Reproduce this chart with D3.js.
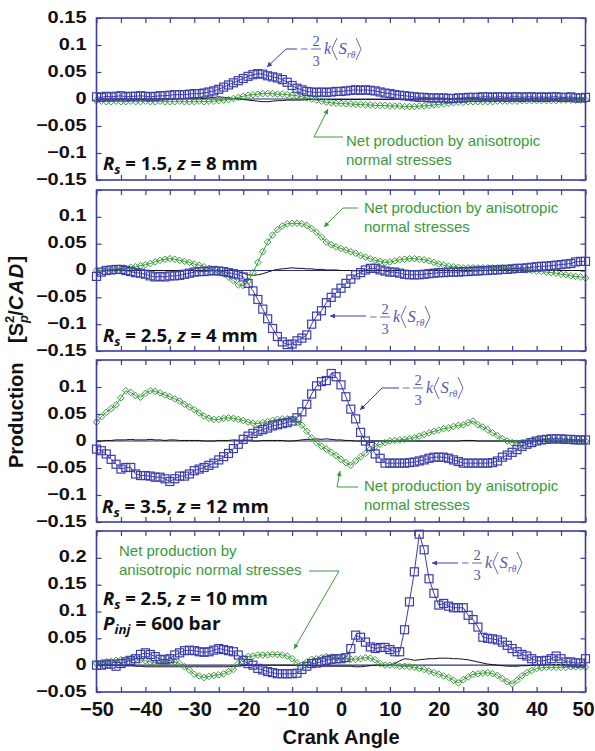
<!DOCTYPE html>
<html><head><meta charset="utf-8">
<script src="https://cdn.jsdelivr.net/npm/d3@7"></script>
<style>body{margin:0;background:#fff;} svg{display:block;}</style>
</head><body>
<svg id="chart" width="595" height="751"></svg>
<script>
// ---------------- DATA ----------------
const crankAngle = [
-50,-49,-48,-47,-46,-45,-44,-43,-42,-41,
-40,-39,-38,-37,-36,-35,-34,-33,-32,-31,
-30,-29,-28,-27,-26,-25,-24,-23,-22,-21,
-20,-19,-18,-17,-16,-15,-14,-13,-12,-11,
-10,-9,-8,-7,-6,-5,-4,-3,-2,-1,
0,1,2,3,4,5,6,7,8,9,
10,11,12,13,14,15,16,17,18,19,
20,21,22,23,24,25,26,27,28,29,
30,31,32,33,34,35,36,37,38,39,
40,41,42,43,44,45,46,47,48,49,
50];

// Panel 1: Rs = 1.5, z = 8 mm
const p1Shear = [
0.004,0.003,0.005,0.004,0.005,0.006,0.004,0.005,0.005,0.006,
0.005,0.004,0.005,0.006,0.006,0.007,0.008,0.008,0.008,0.009,
0.010,0.010,0.011,0.013,0.015,0.018,0.022,0.026,0.030,0.034,
0.038,0.042,0.045,0.047,0.046,0.043,0.041,0.039,0.036,0.031,
0.025,0.020,0.017,0.014,0.013,0.012,0.013,0.012,0.013,0.014,
0.014,0.015,0.016,0.017,0.016,0.017,0.016,0.015,0.013,0.011,
0.010,0.008,0.007,0.006,0.005,0.004,0.003,0.003,0.002,0.002,
0.002,0.002,0.001,0.001,0.002,0.002,0.003,0.003,0.003,0.004,
0.004,0.003,0.004,0.004,0.003,0.004,0.004,0.003,0.004,0.004,
0.003,0.004,0.003,0.004,0.004,0.003,0.003,0.004,0.002,0.002,
0.003];
const p1Normal = [
-0.003,-0.004,-0.005,-0.005,-0.004,-0.005,-0.005,-0.004,-0.005,-0.005,
-0.004,-0.005,-0.005,-0.004,-0.005,-0.005,-0.005,-0.004,-0.005,-0.005,
-0.005,-0.004,-0.005,-0.004,-0.004,-0.003,-0.002,-0.001,0.001,0.003,
0.005,0.007,0.008,0.009,0.010,0.010,0.010,0.009,0.009,0.008,
0.007,0.006,0.004,0.002,0.000,-0.002,-0.004,-0.006,-0.007,-0.008,
-0.008,-0.009,-0.009,-0.010,-0.010,-0.011,-0.011,-0.012,-0.012,-0.012,
-0.013,-0.013,-0.013,-0.014,-0.014,-0.014,-0.013,-0.013,-0.012,-0.011,
-0.010,-0.009,-0.008,-0.007,-0.006,-0.006,-0.005,-0.005,-0.005,-0.005,
-0.005,-0.005,-0.004,-0.004,-0.004,-0.004,-0.004,-0.003,-0.003,-0.003,
-0.003,-0.003,-0.003,-0.003,-0.003,-0.002,-0.002,-0.002,-0.002,-0.002,
-0.002];
const p1Net = [
0,0,0,0,0,0,0,0,0,0,
0,0,0,0,0,0,0,0.001,0.001,0.001,
0.000,0.001,0.001,0.002,0.003,0.004,0.003,0.002,0.001,0.000,
-0.001,-0.002,-0.003,-0.004,-0.005,-0.005,-0.004,-0.003,-0.003,-0.002,
-0.002,-0.002,-0.002,-0.001,-0.001,-0.001,-0.001,-0.001,-0.001,-0.001,
-0.001,-0.001,-0.001,-0.001,-0.001,-0.001,-0.001,-0.001,-0.001,-0.001,
-0.001,-0.001,-0.001,-0.001,-0.001,0,0,0,0,0,
0,0,0,0,0,0,0,0,0,0,
0,0,0,0,0,0,0,0,0,0,
0,0,0,0,0,0,0,0,0,0,
0];

// Panel 2: Rs = 2.5, z = 4 mm
const p2Shear = [
-0.011,-0.003,0.000,0.001,0.002,0.002,0.000,-0.002,-0.004,-0.005,
-0.007,-0.010,-0.012,-0.011,-0.012,-0.010,-0.010,-0.009,-0.007,-0.005,
-0.003,-0.002,-0.002,-0.001,0.000,-0.001,-0.002,-0.004,-0.006,-0.008,
-0.012,-0.024,-0.038,-0.054,-0.072,-0.090,-0.108,-0.123,-0.133,-0.138,
-0.137,-0.131,-0.126,-0.120,-0.100,-0.085,-0.075,-0.060,-0.050,-0.042,
-0.033,-0.024,-0.016,-0.008,-0.004,0.001,0.004,0.004,0.001,-0.001,
-0.003,-0.003,-0.005,-0.007,-0.008,-0.008,-0.008,-0.007,-0.006,-0.005,
-0.004,-0.004,-0.003,-0.003,-0.003,-0.002,-0.002,-0.001,-0.001,0.000,
0.000,0.001,0.001,0.002,0.002,0.003,0.004,0.004,0.005,0.006,
0.007,0.008,0.008,0.009,0.010,0.011,0.012,0.013,0.016,0.017,
0.017];
const p2Normal = [
0.000,0.000,0.001,0.001,0.002,0.003,0.004,0.006,0.007,0.009,
0.011,0.013,0.016,0.019,0.021,0.022,0.021,0.019,0.017,0.015,
0.012,0.010,0.007,0.004,0.001,-0.002,-0.006,-0.012,-0.019,-0.027,
-0.028,-0.020,-0.004,0.015,0.035,0.053,0.066,0.076,0.083,0.087,
0.088,0.088,0.087,0.084,0.078,0.071,0.062,0.053,0.048,0.044,
0.041,0.038,0.035,0.032,0.028,0.025,0.022,0.019,0.017,0.015,
0.016,0.018,0.020,0.021,0.022,0.022,0.021,0.020,0.018,0.015,
0.012,0.010,0.008,0.007,0.006,0.005,0.005,0.005,0.005,0.005,
0.005,0.005,0.005,0.005,0.004,0.004,0.003,0.002,0.001,0.000,
-0.001,-0.002,-0.003,-0.004,-0.005,-0.007,-0.008,-0.010,-0.011,-0.012,
-0.014];
const p2Net = [
0,0,0,0,0,0,0,0,0,0,
0,0,0,0,0,0,0,0,0,0,
0,0,0,0,0,0,0,0,0,-0.002,
-0.005,-0.008,-0.009,-0.008,-0.006,-0.003,0.000,0.002,0.003,0.004,
0.005,0.004,0.004,0.003,0.003,0.002,0.002,0.001,0.001,0.001,
0,0,0,0,0,0,0,0,0,0,
0,0,0,0,0,0,0,0,0,0,
0,0,0,0,0,0,0,0,0,0,
0,0,0,0,0,0,0,0,0,0,
0,0,0,0,0,0,0,0,0,0,
0];

// Panel 3: Rs = 3.5, z = 12 mm
const p3Shear = [
-0.015,-0.018,-0.024,-0.034,-0.043,-0.052,-0.049,-0.049,-0.061,-0.064,
-0.064,-0.065,-0.067,-0.067,-0.070,-0.075,-0.070,-0.065,-0.065,-0.061,
-0.055,-0.052,-0.049,-0.045,-0.041,-0.035,-0.029,-0.023,-0.014,-0.006,
0.003,0.009,0.014,0.018,0.021,0.024,0.028,0.030,0.032,0.034,
0.037,0.043,0.054,0.068,0.087,0.102,0.110,0.112,0.125,0.119,
0.104,0.082,0.059,0.041,0.016,0.000,-0.010,-0.024,-0.032,-0.041,
-0.041,-0.041,-0.041,-0.041,-0.040,-0.039,-0.037,-0.035,-0.032,-0.030,
-0.030,-0.030,-0.032,-0.035,-0.038,-0.041,-0.041,-0.041,-0.041,-0.041,
-0.041,-0.040,-0.037,-0.030,-0.026,-0.021,-0.016,-0.010,-0.006,-0.003,
0.000,0.002,0.003,0.004,0.004,0.004,0.003,0.003,0.002,0.002,
0.002];
const p3Normal = [
0.035,0.045,0.053,0.060,0.067,0.080,0.093,0.090,0.084,0.081,
0.088,0.093,0.092,0.089,0.085,0.082,0.078,0.074,0.068,0.063,
0.058,0.052,0.046,0.042,0.040,0.040,0.042,0.043,0.042,0.040,
0.038,0.035,0.033,0.032,0.034,0.036,0.038,0.040,0.041,0.041,
0.040,0.035,0.029,0.018,0.006,-0.003,-0.010,-0.015,-0.021,-0.027,
-0.034,-0.040,-0.045,-0.037,-0.029,-0.023,-0.015,-0.010,-0.006,-0.003,
0.000,0.001,0.002,0.003,0.004,0.006,0.009,0.012,0.015,0.018,
0.020,0.023,0.024,0.027,0.029,0.030,0.034,0.037,0.030,0.026,
0.021,0.015,0.010,0.004,0.000,-0.003,-0.004,-0.003,-0.001,0.001,
0.002,0.002,0.002,0.002,0.001,0.001,0.001,0.000,0.000,0.000,
0.000];
const p3Net = [
0.000,0.000,0.001,0.001,0.002,0.002,0.002,0.003,0.002,0.002,
0.002,0.003,0.002,0.002,0.001,0.002,0.002,0.001,0.001,0.001,
0.001,0.001,0.000,0.000,0.000,0.001,0.001,0.001,0.002,0.001,
0.001,0.001,0.000,0.000,0.001,0.001,0.001,0.001,0.001,0.000,
0.000,0.001,0.002,0.003,0.003,0.004,0.003,0.004,0.003,0.002,
0.002,0.001,0.001,0,0,0,0,0,0,0,
0,0,0,0,0,0,0,0,0,0,
0,0,0,0,0,0.001,0.001,0.001,0,0,
0,0,0,0,0,0,0,0,0,0,
0,0,0,0,0,0,0,0,0,0,
0];

// Panel 4: Rs = 2.5, z = 10 mm, Pinj = 600 bar
const p4Shear = [
0.000,0.000,0.002,0.002,-0.002,0.003,0.006,0.009,0.012,0.020,
0.023,0.020,0.016,0.011,0.010,0.012,0.019,0.023,0.027,0.028,
0.027,0.025,0.024,0.025,0.028,0.031,0.029,0.027,0.025,0.019,
0.009,0.003,0.000,-0.006,-0.009,-0.012,-0.014,-0.016,-0.016,-0.016,
-0.016,-0.015,-0.008,-0.002,0.003,0.004,0.006,0.009,0.011,0.012,
0.012,0.014,0.031,0.056,0.052,0.043,0.034,0.031,0.033,0.033,
0.029,0.025,0.025,0.066,0.118,0.174,0.244,0.215,0.161,0.134,
0.112,0.115,0.110,0.107,0.107,0.107,0.093,0.085,0.071,0.052,
0.050,0.049,0.047,0.043,0.037,0.031,0.025,0.020,0.017,0.012,
0.008,0.008,0.009,0.012,0.017,0.012,0.006,0.006,0.004,0.004,
0.012];
const p4Normal = [
0.003,0.004,0.006,0.007,0.009,0.010,0.011,0.012,0.012,0.010,
0.008,0.006,0.004,0.006,0.008,0.009,0.006,0.003,-0.003,-0.009,
-0.017,-0.020,-0.023,-0.021,-0.019,-0.018,-0.016,-0.012,-0.008,0.003,
0.012,0.016,0.017,0.019,0.019,0.019,0.020,0.020,0.019,0.017,
0.012,0.004,0.000,0.006,0.011,0.012,0.014,0.016,0.015,0.013,
0.012,0.012,0.011,0.011,0.012,0.014,0.013,0.010,0.003,0.000,
0.000,0.000,-0.002,-0.002,-0.003,-0.004,-0.006,-0.008,-0.011,-0.014,
-0.017,-0.020,-0.023,-0.028,-0.033,-0.027,-0.022,-0.017,-0.016,-0.015,
-0.014,-0.016,-0.019,-0.025,-0.031,-0.035,-0.028,-0.020,-0.014,-0.010,
-0.006,-0.005,-0.004,-0.004,-0.004,-0.004,-0.004,-0.003,-0.003,-0.003,
-0.004];
const p4Net = [
0.000,0.000,0.000,0.000,0.000,0.000,0.000,-0.001,-0.002,-0.002,
-0.003,-0.003,-0.003,-0.003,-0.003,-0.003,-0.003,-0.003,-0.003,-0.003,
-0.003,-0.003,-0.003,-0.003,-0.003,-0.003,-0.003,-0.003,-0.002,-0.002,
-0.001,0.000,0.000,0.000,0.000,0.000,0.000,0.000,0.000,0.000,
0.000,0.000,0.000,0.000,-0.001,-0.001,-0.002,-0.002,-0.002,-0.002,
-0.002,-0.002,-0.002,-0.003,-0.003,-0.002,-0.001,0.000,0.000,-0.001,
0.000,0.003,0.008,0.012,0.011,0.009,0.010,0.011,0.012,0.012,
0.013,0.013,0.013,0.012,0.012,0.011,0.010,0.008,0.006,0.004,
0.002,0.001,0.000,-0.001,-0.002,-0.002,-0.002,-0.001,-0.001,0.000,
0.000,0.000,0.001,0.001,0.001,0.001,0.001,0.000,0.000,0.000,
0.000];

const yTicksSym = [-0.15,-0.1,-0.05,0,0.05,0.1,0.15];
const yTicksInj = [-0.05,0,0.05,0.1,0.15,0.2,0.25];
const xTicks = [-50,-45,-40,-35,-30,-25,-20,-15,-10,-5,0,5,10,15,20,25,30,35,40,45,50];
const xTickLabels = [-50,-40,-30,-20,-10,0,10,20,30,40,50];
const xTitle = "Crank Angle";
const yTitleWord = "Production";
const shearLabelText = ["\u2212", "2", "3", "k", "S", "r\u03b8"];
const normalLabelLines = [
  ["Net production by anisotropic", "normal stresses"],
  ["Net production by anisotropic", "normal stresses"],
  ["Net production by anisotropic", "normal stresses"],
  ["Net production by", "anisotropic normal stresses"]
];
const caseLabels = [
  [[{t:"R",i:1},{t:"s",i:1,sub:1},{t:" = 1.5, "},{t:"z",i:1},{t:" = 8 mm"}]],
  [[{t:"R",i:1},{t:"s",i:1,sub:1},{t:" = 2.5, "},{t:"z",i:1},{t:" = 4 mm"}]],
  [[{t:"R",i:1},{t:"s",i:1,sub:1},{t:" = 3.5, "},{t:"z",i:1},{t:" = 12 mm"}]],
  [[{t:"R",i:1},{t:"s",i:1,sub:1},{t:" = 2.5, "},{t:"z",i:1},{t:" = 10 mm"}],
   [{t:"P",i:1},{t:"inj",i:1,sub:1},{t:" = 600 bar"}]]
];

// ---------------- STYLE / LAYOUT ----------------
const frameColor = "#3b3e9c";
const blue = "#3d3dac";
const green = "#3a9a3a";
const mathColor = "#5656b2";
const sans = "'Liberation Sans', Arial, Helvetica, sans-serif";
const serif = "'Liberation Serif', 'Times New Roman', serif";
const labelFont = "'Open Sans', 'Liberation Sans', sans-serif";

const xLeft = 96.5, xRight = 585.5;
const panelBoxes = [{top:18,bottom:180},{top:190,bottom:351},{top:360,bottom:522},{top:531,bottom:692}];
const panelData = [
  {shear:p1Shear, normal:p1Normal, net:p1Net, domain:[-0.15,0.15], ticks:yTicksSym, hide:[]},
  {shear:p2Shear, normal:p2Normal, net:p2Net, domain:[-0.15,0.15], ticks:yTicksSym, hide:[0.15]},
  {shear:p3Shear, normal:p3Normal, net:p3Net, domain:[-0.15,0.15], ticks:yTicksSym, hide:[0.15]},
  {shear:p4Shear, normal:p4Normal, net:p4Net, domain:[-0.05,0.25], ticks:yTicksInj, hide:[0.25]}
];
// annotation placement (layout only)
const shearAnno = [
  {x0:301, yb:54, arrow:[[297,49],[286,49],[267,67]]},
  {x0:370, yb:322, arrow:[[366,316],[330,316]]},
  {x0:403, yb:393, arrow:[[399,388],[382,388],[360,410]]},
  {x0:462, yb:568, arrow:[[458,563],[432,563]]}
];
const normalAnno = [
  {x:346, y:146, arrow:[[343,137],[314,137],[328,109]]},
  {x:364, y:213, arrow:[[358,208],[343,208],[324,227]]},
  {x:364, y:491, arrow:[[358,487],[337,487],[340,471]]},
  {x:119, y:556, arrow:[[309,571],[339,571],[294,649]]}
];
const caseAnno = [
  [{x:103, y:170, w:155}],
  [{x:103, y:342, w:155}],
  [{x:102, y:513, w:167}],
  [{x:103, y:605, w:165},{x:103, y:630, w:118}]
];

const svg = d3.select("#chart");
const x = d3.scaleLinear().domain([-50,50]).range([xLeft,xRight]);

const defs = svg.append("defs");
function marker(id, color){
  defs.append("marker").attr("id",id).attr("viewBox","0 0 10 10")
    .attr("refX",10).attr("refY",5).attr("markerWidth",7).attr("markerHeight",5)
    .attr("markerUnits","userSpaceOnUse").attr("orient","auto")
    .append("path").attr("d","M0,0L10,5L0,10Z").attr("fill",color);
}
marker("arrBlue", blue);
marker("arrGreen", green);

const fmt = d => d === 0 ? "0" : (d < 0 ? "\u2212" : "") + String(Math.abs(d));

panelData.forEach((pd, i) => {
  const box = panelBoxes[i];
  const y = d3.scaleLinear().domain(pd.domain).range([box.bottom, box.top]);
  const g = svg.append("g");

  // axes (inward ticks)
  const left = g.append("g").attr("transform",`translate(${xLeft},0)`)
    .call(d3.axisLeft(y).tickValues(pd.ticks).tickSize(-5).tickPadding(10)
      .tickFormat(d => pd.hide.includes(d) ? "" : fmt(d)));
  const right = g.append("g").attr("transform",`translate(${xRight},0)`)
    .call(d3.axisRight(y).tickValues(pd.ticks).tickSize(-5).tickFormat(""));
  const top = g.append("g").attr("transform",`translate(0,${box.top})`)
    .call(d3.axisTop(x).tickValues(xTicks).tickSize(-5).tickFormat(""));
  const bottom = g.append("g").attr("transform",`translate(0,${box.bottom})`)
    .call(d3.axisBottom(x).tickValues(xTicks).tickSize(-5).tickPadding(10)
      .tickFormat(d => (i === 3 && xTickLabels.includes(d)) ? fmt(d) : ""));
  [left,right,top,bottom].forEach(a => {
    a.select(".domain").remove();
    a.selectAll(".tick line").attr("stroke",frameColor).attr("stroke-width",1.2);
    a.attr("font-family",sans).attr("font-weight","bold").attr("font-size",20);
    a.selectAll("text").attr("fill","#111");
  });
  left.selectAll("text").attr("transform","translate(0,-1.5) scale(1,0.86)");
  // keep the last label inside the picture
  bottom.selectAll(".tick text").filter(d => d === 50).attr("dx",-2.5);

  // zero line
  g.append("line").attr("x1",xLeft).attr("x2",xRight).attr("y1",y(0)).attr("y2",y(0))
    .attr("stroke","#2c2c88").attr("stroke-width",1.2);

  const line = d3.line().x((d,k) => x(crankAngle[k])).y(d => y(d));
  // net (black)
  g.append("path").attr("d",line(pd.net)).attr("fill","none").attr("stroke","#111").attr("stroke-width",1);
  // normal stresses (green diamonds)
  g.append("path").attr("d",line(pd.normal)).attr("fill","none").attr("stroke",green).attr("stroke-width",1);
  g.selectAll(".dia").data(pd.normal).join("path")
    .attr("transform",(d,k) => `translate(${x(crankAngle[k])},${y(d)})`)
    .attr("d","M0,-3.3L3.3,0L0,3.3L-3.3,0Z")
    .attr("fill","none").attr("stroke",green).attr("stroke-width",1);
  // shear (blue squares)
  g.append("path").attr("d",line(pd.shear)).attr("fill","none").attr("stroke",blue).attr("stroke-width",1);
  g.selectAll(".sq").data(pd.shear).join("rect")
    .attr("x",(d,k) => x(crankAngle[k]) - 4).attr("y",d => y(d) - 4)
    .attr("width",8).attr("height",8)
    .attr("fill","none").attr("stroke",blue).attr("stroke-width",1.2);

  // frame
  g.append("rect").attr("x",xLeft).attr("y",box.top).attr("width",xRight-xLeft).attr("height",box.bottom-box.top)
    .attr("fill","none").attr("stroke",frameColor).attr("stroke-width",1.6);

  // shear annotation
  const sa = shearAnno[i];
  g.append("path").attr("d",d3.line()(sa.arrow)).attr("fill","none").attr("stroke",blue)
    .attr("stroke-width",1).attr("marker-end","url(#arrBlue)");
  const m = g.append("g").attr("transform",`translate(${sa.x0},${sa.yb})`).attr("fill",mathColor)
    .attr("font-family",serif);
  m.append("line").attr("x1",0).attr("x2",6.5).attr("y1",-5).attr("y2",-5).attr("stroke",mathColor).attr("stroke-width",0.9);
  m.append("line").attr("x1",10).attr("x2",20).attr("y1",-5).attr("y2",-5).attr("stroke",mathColor).attr("stroke-width",0.9);
  m.append("text").attr("x",15).attr("y",-8).attr("text-anchor","middle").attr("font-size",14.5).text(shearLabelText[1]);
  m.append("text").attr("x",15).attr("y",11.5).attr("text-anchor","middle").attr("font-size",14.5).text(shearLabelText[2]);
  m.append("text").attr("x",23).attr("y",0).attr("font-style","italic").attr("font-size",16).text(shearLabelText[3]);
  m.append("path").attr("d","M36,-16L31,-5L36,6").attr("fill","none").attr("stroke",mathColor).attr("stroke-width",0.9);
  m.append("text").attr("x",37.5).attr("y",0).attr("font-style","italic").attr("font-size",16.5).text(shearLabelText[4]);
  m.append("text").attr("x",46).attr("y",3.5).attr("font-style","italic").attr("font-size",9.5).text(shearLabelText[5]);
  m.append("path").attr("d","M55,-16L60,-5L55,6").attr("fill","none").attr("stroke",mathColor).attr("stroke-width",0.9);

  // normal stresses annotation
  const na = normalAnno[i];
  g.append("path").attr("d",d3.line()(na.arrow)).attr("fill","none").attr("stroke",green)
    .attr("stroke-width",1).attr("marker-end","url(#arrGreen)");
  normalLabelLines[i].forEach((t,k) => {
    g.append("text").attr("x",na.x).attr("y",na.y + k*18.5).attr("fill",green)
      .attr("font-family",sans).attr("font-size",15).text(t);
  });

  // case labels
  caseLabels[i].forEach((segs,k) => {
    const c = caseAnno[i][k];
    const t = g.append("text").attr("x",c.x).attr("y",c.y).attr("font-family",labelFont)
      .attr("font-weight","bold").attr("font-size",17).attr("fill","#111");
    let shifted = false;
    segs.forEach(s => {
      const ts = t.append("tspan").text(s.t);
      if (s.i) ts.attr("font-style","italic");
      if (s.sub) { ts.attr("font-size",12).attr("dy",4); shifted = true; }
      else if (shifted) { ts.attr("dy",-4); shifted = false; }
    });
    const w = t.node().getBBox().width;
    const sx = c.w / w;
    t.attr("transform",`translate(${c.x},0) scale(${sx},1) translate(${-c.x},0)`);
  });
});

// axis titles
svg.append("text").attr("x",(xLeft+xRight)/2).attr("y",744).attr("text-anchor","middle")
  .attr("font-family",sans).attr("font-weight","bold").attr("font-size",20).attr("fill","#111").text(xTitle);

const yt = svg.append("g").attr("transform","translate(23,468) rotate(-90)")
  .attr("font-family",sans).attr("font-weight","bold").attr("font-size",20).attr("fill","#111");
yt.append("text").attr("x",0).attr("y",0).text(yTitleWord);
const t2 = yt.append("text").attr("x",125).attr("y",0);
t2.append("tspan").text("[S");
t2.append("tspan").attr("font-size",13).attr("font-style","italic").attr("dy",5).text("p");
t2.append("tspan").attr("font-size",13).attr("dx",-8).attr("dy",-14).text("2");
t2.append("tspan").attr("dy",9).text("/");
t2.append("tspan").attr("font-style","italic").attr("letter-spacing",1.5).text("CAD");
t2.append("tspan").text("]");
</script>
</body></html>
